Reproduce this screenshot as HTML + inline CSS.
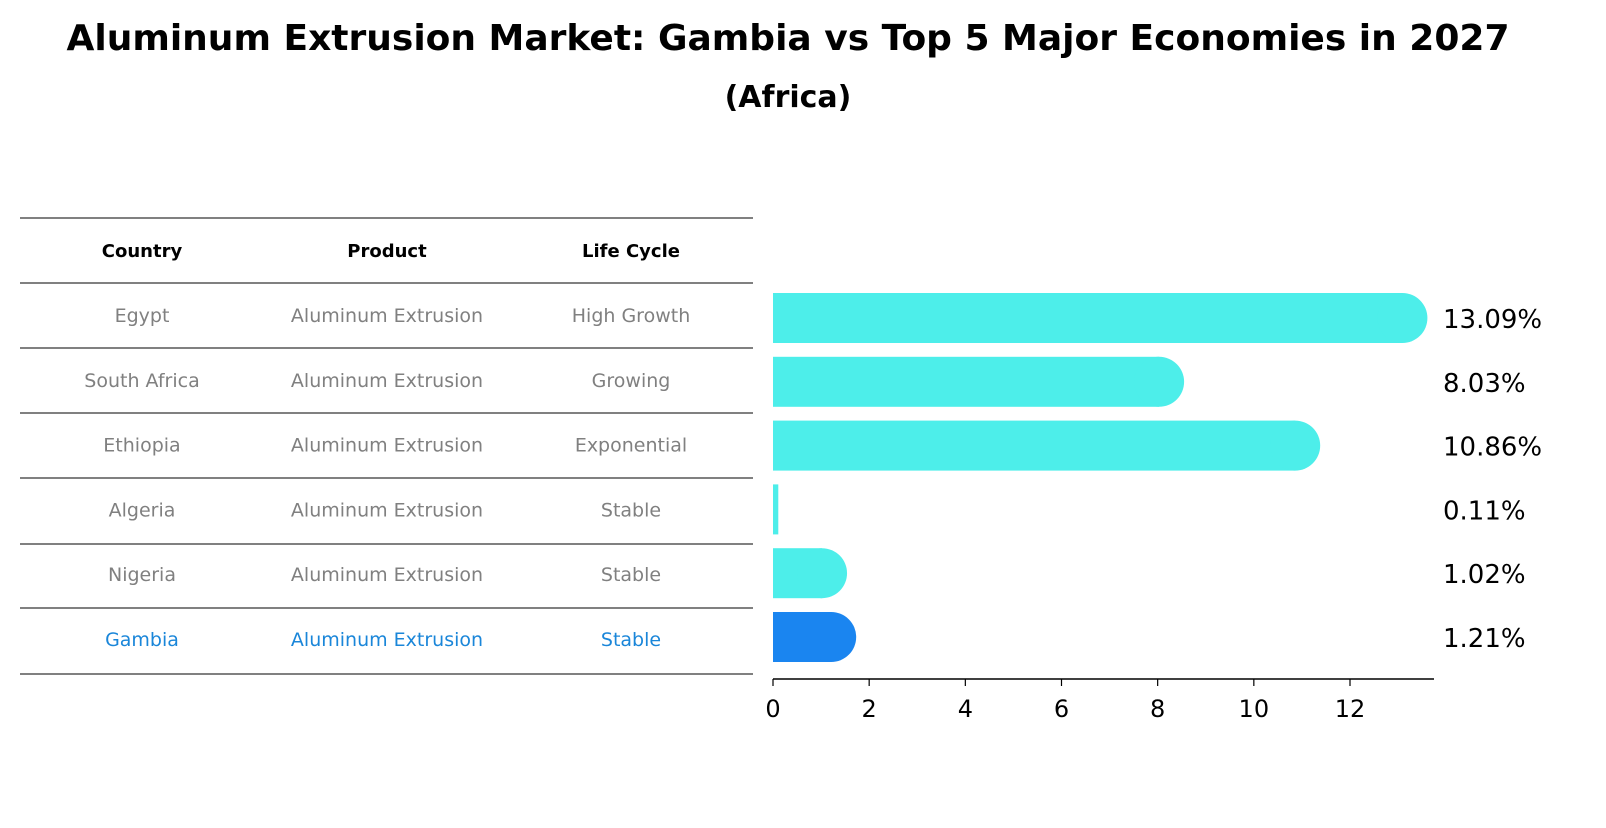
<!DOCTYPE html>
<html><head><meta charset="utf-8"><style>
body{margin:0;background:#fff;font-family:"Liberation Sans","DejaVu Sans",sans-serif}
</style></head><body>
<svg width="1606" height="823" xmlns="http://www.w3.org/2000/svg" id="chart" font-family="DejaVu Sans, Liberation Sans, sans-serif">
<rect width="1606" height="823" fill="#fff"/>
<text x="788" y="50" text-anchor="middle" font-size="36" font-weight="bold">Aluminum Extrusion Market: Gambia vs Top 5 Major Economies in 2027</text>
<text x="788" y="107" text-anchor="middle" font-size="30" font-weight="bold">(Africa)</text>
<g id="table"></g>
<g id="bars"></g>
<g id="axis"></g>
</svg>
<script>
const countries=["Egypt","South Africa","Ethiopia","Algeria","Nigeria","Gambia"];
const products=["Aluminum Extrusion","Aluminum Extrusion","Aluminum Extrusion","Aluminum Extrusion","Aluminum Extrusion","Aluminum Extrusion"];
const lifecycles=["High Growth","Growing","Exponential","Stable","Stable","Stable"];
const values=[13.09,8.03,10.86,0.11,1.02,1.21];
const ticks=[0,2,4,6,8,10,12];
const NS="http://www.w3.org/2000/svg";
function mk(t,a,p){const e=document.createElementNS(NS,t);for(const k in a)e.setAttribute(k,a[k]);p.appendChild(e);return e;}
const x0=773,ppu=577/12;
const xs=v=>x0+v*ppu;
const rowY=i=>318+i*63.8;
const table=document.getElementById('table');
const lines=[218,283,348,413,478,544,608,674];
lines.forEach((y,i)=>{const l=mk('line',{x1:20,x2:753,y1:y,y2:y,stroke:'#000','stroke-width':1},table);

});
const cols=[142,387,631];
["Country","Product","Life Cycle"].forEach((h,j)=>{const t=mk('text',{x:cols[j],y:257,'text-anchor':'middle','font-size':18,'font-weight':'bold'},table);t.textContent=h;

});
countries.forEach((c,i)=>{const y=322+i*64.8;const col=i===countries.length-1?'#1a86d9':'#808080';
[c,products[i],lifecycles[i]].forEach((s,j)=>{const t=mk('text',{x:cols[j],y:y,'text-anchor':'middle','font-size':19,fill:col},table);t.textContent=s;

});});
const bars=document.getElementById('bars');
values.forEach((v,i)=>{const cy=rowY(i),h=50,r=25;const col=i===values.length-1?'#1a85f0':'#4deeea';
const w=xs(v)-x0;
const b=mk('rect',{x:x0,y:cy-h/2,width:Math.max(w,1),height:h,fill:col},bars);


if(v>0.5){const c=mk('circle',{cx:xs(v),cy:cy,r:r,fill:col},bars);

}
const t=mk('text',{x:1443,y:cy+10,'font-size':26},bars);t.textContent=v.toFixed(2)+'%';

});
const ax=document.getElementById('axis');
mk('line',{x1:x0,x2:1434,y1:679,y2:679,stroke:'#000','stroke-width':1.5},ax);
ticks.forEach(v=>{mk('line',{x1:xs(v),x2:xs(v),y1:679,y2:686,stroke:'#000','stroke-width':1.2},ax);
const t=mk('text',{x:xs(v),y:717,'text-anchor':'middle','font-size':24},ax);t.textContent=v;

});
</script>
</body></html>
